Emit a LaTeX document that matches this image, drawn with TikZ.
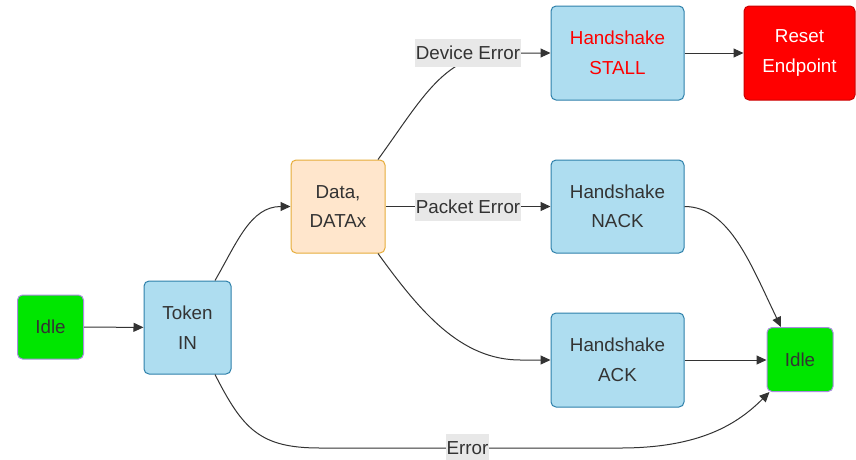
\documentclass[tikz,border=0pt]{standalone}
\usepackage{fontspec}
\setmainfont{Liberation Sans}
\usetikzlibrary{arrows.meta,calc}
\definecolor{txt}{HTML}{333333}
\definecolor{linec}{HTML}{333333}
\definecolor{hsfill}{HTML}{AEDDF0}
\definecolor{hsdraw}{HTML}{2E80AA}
\definecolor{idlefill}{HTML}{00E600}
\definecolor{idledraw}{HTML}{A98CE0}
\definecolor{datafill}{HTML}{FFE6CC}
\definecolor{datadraw}{HTML}{E6AD3A}
\definecolor{resetfill}{HTML}{FF0000}
\definecolor{resetdraw}{HTML}{CC0000}
\definecolor{lblgray}{HTML}{E8E8E8}
\tikzset{
  box/.style={draw, rounded corners=5pt, align=center, inner sep=0pt, text=txt,
    font=\fontsize{18.8}{29.5}\selectfont, line width=1pt},
  hsbox/.style={box, fill=hsfill, draw=hsdraw},
  idlebox/.style={box, fill=idlefill, draw=idledraw, minimum width=66pt, minimum height=64pt},
  databox/.style={box, fill=datafill, draw=datadraw},
  resetbox/.style={box, fill=resetfill, draw=resetdraw, text=white},
  lbl/.style={fill=lblgray, inner xsep=1pt, inner ysep=0pt, minimum height=28pt, text=txt,
    font=\fontsize{18.8}{22}\selectfont},
  arr/.style={-{Triangle[length=10pt,width=9pt]}, draw=linec, line width=1pt}
}
\begin{document}
\begin{tikzpicture}[x=1pt,y=-1pt]
\useasboundingbox (0,0) rectangle (856,459);
\node[idlebox] (idleL) at (50.5,327) {Idle};
\node[hsbox, minimum width=87pt, minimum height=93pt] (tok) at (187.5,327.5) {Token\\IN};
\node[databox, minimum width=94pt, minimum height=93pt] (data) at (338,206.5) {Data,\\DATAx};
\node[hsbox, minimum width=133pt, minimum height=94pt, text=red] (stall) at (617.5,53) {Handshake\\STALL};
\node[resetbox, minimum width=111pt, minimum height=94pt] (reset) at (799.5,53) {Reset\\Endpoint};
\node[hsbox, minimum width=133pt, minimum height=93pt] (nack) at (617.5,206.5) {Handshake\\NACK};
\node[hsbox, minimum width=133pt, minimum height=94pt] (ack) at (617.5,360) {Handshake\\ACK};
\node[idlebox] (idleR) at (800,359.5) {Idle};
\coordinate (e1) at (320,448);
\coordinate (e2) at (620,448);

\draw[arr] (idleL) -- (tok);
\draw[arr] ($(tok.north)+(27.5,0)$) .. controls +(22,-38) and +(-40,0) .. (data.west);
\draw[arr] ($(data.north)+(40,0)$) .. controls +(45,-62) and +(-60,0) .. ($(stall.west)+(-46,0)$) -- (stall.west);
\draw[arr] (data) -- (nack);
\draw[arr] ($(data.south)+(40,0)$) .. controls +(42,58) and +(-60,0) .. ($(ack.west)+(-30,0)$) -- (ack.west);
\draw[arr] (stall) -- (reset);
\draw[arr] (nack.east) .. controls +(45,0) and +(-30,-62) .. ($(idleR.north)+(-19,0)$);
\draw[arr] (ack.east) -- (ack.east -| idleR.west);
\draw[arr] ($(tok.south)+(27.5,0)$) .. controls +(28,55) and +(-60,0) .. (e1) -- (e2)
  .. controls +(80,0) and +(-32,32) .. ($(idleR.south west)+(3,0)$);

\node[lbl] (ldev) at (468,52.5) {Device Error};
\node[lbl] (lpkt) at (468,206.5) {Packet Error};
\node[lbl] (lerr) at (467.5,448) {Error};
\end{tikzpicture}
\end{document}
